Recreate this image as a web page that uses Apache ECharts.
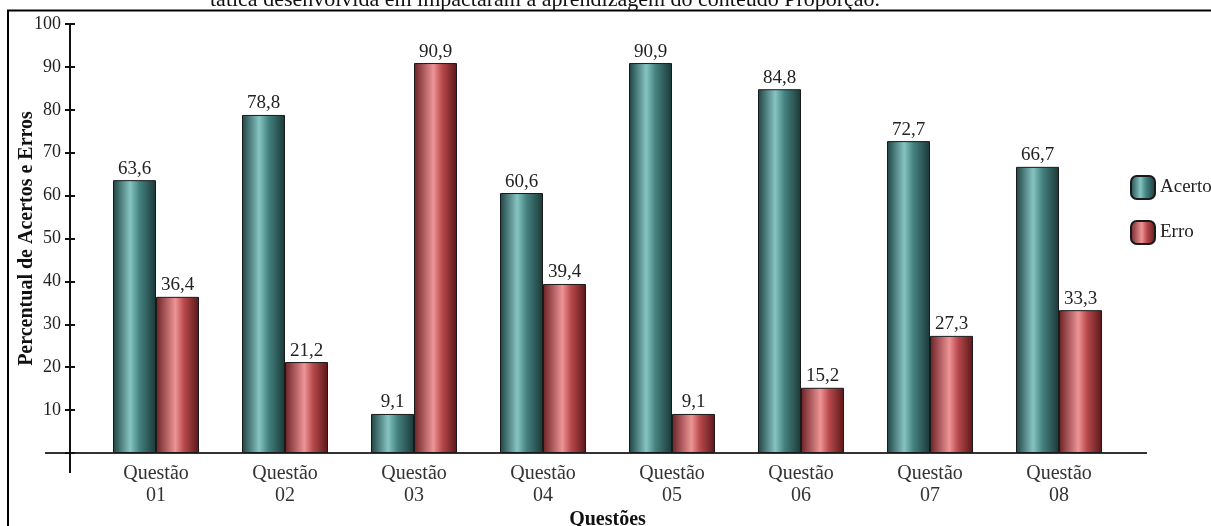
<!DOCTYPE html>
<html><head><meta charset="utf-8">
<script src="https://cdn.jsdelivr.net/npm/echarts@6/dist/echarts.min.js"></script>
<style>html,body{margin:0;padding:0;background:#fff}#c{width:1211px;height:526px}</style>
</head><body><div id="c"></div>
<script>
const categories = ['Questão\n01','Questão\n02','Questão\n03','Questão\n04','Questão\n05','Questão\n06','Questão\n07','Questão\n08'];
const acerto = [63.6, 78.8, 9.1, 60.6, 90.9, 84.8, 72.7, 66.7];
const erro = [36.4, 21.2, 90.9, 39.4, 9.1, 15.2, 27.3, 33.3];
const seriesNames = ['Acerto', 'Erro'];
const yAxisName = 'Percentual de Acertos e Erros';
const xAxisName = 'Questões';
const titleText = 'tática desenvolvida em impactaram a aprendizagem do conteúdo Proporção.';

const FONT = 'Liberation Serif';
const chart = echarts.init(document.getElementById('c'));
const tealGrad = new echarts.graphic.LinearGradient(0, 0, 1, 0, [
  {offset: 0, color: '#1d4342'}, {offset: 0.4, color: '#86c4c2'},
  {offset: 0.62, color: '#43817f'}, {offset: 1, color: '#1a3837'}]);
const redGrad = new echarts.graphic.LinearGradient(0, 0, 1, 0, [
  {offset: 0, color: '#6a2124'}, {offset: 0.45, color: '#ee9496'},
  {offset: 0.65, color: '#b9494c'}, {offset: 1, color: '#5a1719'}]);
const fmt = p => String(p.value).replace('.', ',');
const labelStyle = {show: true, position: 'top', distance: 2, formatter: fmt,
  fontFamily: FONT, fontSize: 19, color: '#222'};

chart.setOption({
  backgroundColor: '#fff',
  animation: false,
  title: {text: titleText, left: 205, top: -16,
    textStyle: {fontFamily: FONT, fontSize: 22, fontWeight: 'normal', color: '#111'}},
  legend: {orient: 'vertical', left: 1125, top: 170, itemWidth: 24, itemHeight: 23, itemGap: 20,
    textStyle: {fontFamily: FONT, fontSize: 19, color: '#222'}, data: seriesNames},
  grid: {left: 91.5, right: 87.5, top: 24, bottom: 73, outerBoundsMode: 'none', containLabel: false},
  xAxis: {type: 'category', data: categories,
    axisLine: {lineStyle: {color: '#333', width: 2}},
    axisTick: {show: false},
    axisLabel: {fontFamily: FONT, fontSize: 20, color: '#333', lineHeight: 22, margin: 10},
    name: xAxisName, nameLocation: 'middle', nameGap: 57, nameMoveOverlap: false,
    nameTextStyle: {fontFamily: FONT, fontSize: 20, fontWeight: 'bold', color: '#111'}},
  yAxis: [{type: 'value', min: 0, max: 100, interval: 10, offset: 21.5,
    axisLine: {show: true, lineStyle: {color: '#111', width: 2}},
    axisTick: {show: true, length: 5, lineStyle: {color: '#111', width: 2}},
    splitLine: {show: false},
    axisLabel: {fontFamily: FONT, fontSize: 18, color: '#222', margin: 9,
      formatter: v => v === 0 ? '' : v},
    name: yAxisName, nameLocation: 'middle', nameGap: 33, nameMoveOverlap: false,
    nameTextStyle: {fontFamily: FONT, fontSize: 20, fontWeight: 'bold', color: '#111'}},
    {type: 'value', position: 'left', min: 0, max: 100, interval: 10, offset: 21.5,
    axisLine: {show: false}, axisLabel: {show: false}, splitLine: {show: false},
    axisTick: {show: true, inside: true, length: 5, lineStyle: {color: '#111', width: 2}}}],
  series: [
    {name: seriesNames[0], type: 'bar', data: acerto, barWidth: 43, barGap: '0%',
      itemStyle: {color: tealGrad, borderColor: '#1a1a1a', borderWidth: 1}, label: labelStyle},
    {name: seriesNames[1], type: 'bar', data: erro, barWidth: 43, barGap: '0%',
      itemStyle: {color: redGrad, borderColor: '#1a1a1a', borderWidth: 1}, label: labelStyle}
  ]
});

// axis extensions (cross-style axes) and page frame
const y0 = chart.convertToPixel({yAxisIndex: 0}, 0);
const gridRect = chart.getModel().getComponent('grid').coordinateSystem.getRect();
const yAxisX = gridRect.x - 21.5;
chart.setOption({graphic: [
  {type: 'rect', shape: {x: 8, y: 10.5, width: 1230, height: 540}, silent: true, z: 100,
    style: {fill: 'none', stroke: '#000', lineWidth: 2}},
  {type: 'line', shape: {x1: 45, y1: y0, x2: gridRect.x, y2: y0}, style: {stroke: '#333', lineWidth: 2}},
  {type: 'line', shape: {x1: gridRect.x + gridRect.width, y1: y0, x2: 1147, y2: y0}, style: {stroke: '#333', lineWidth: 2}},
  {type: 'line', shape: {x1: yAxisX, y1: y0, x2: yAxisX, y2: y0 + 20}, style: {stroke: '#111', lineWidth: 2}}
]});
</script></body></html>
